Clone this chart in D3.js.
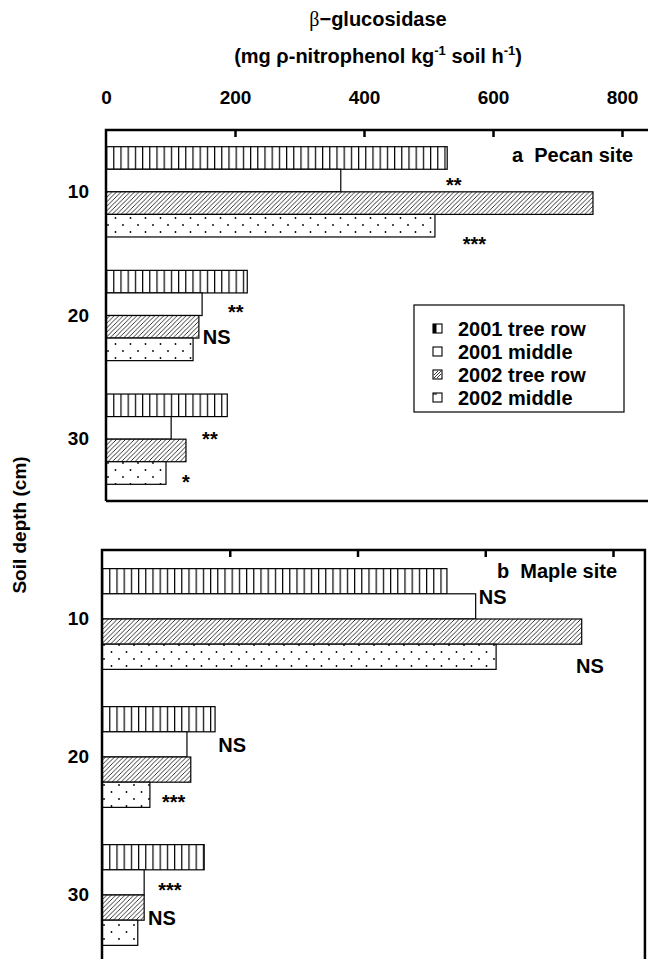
<!DOCTYPE html>
<html>
<head>
<meta charset="utf-8">
<script src="https://cdn.jsdelivr.net/npm/d3@7"></script>
<style>
  body { margin: 0; background: #fff; }
  svg text { font-family: "Liberation Sans", Arial, sans-serif; font-weight: bold; fill: #000; }
</style>
</head>
<body>
<div id="chart"></div>
<script>
const depths = [10, 20, 30]
const series = ['2001 tree row', '2001 middle', '2002 tree row', '2002 middle']
const xTicks = [0, 200, 400, 600, 800]

// a: pecan site, one value per depth
const pecanTree2001 = [529, 219, 188]
const pecanMiddle2001 = [364, 149, 101]
const pecanTree2002 = [755, 144, 124]
const pecanMiddle2002 = [510, 135, 93]

// b: maple site
const mapleTree2001 = [540, 177, 160]
const mapleMiddle2001 = [585, 133, 66]
const mapleTree2002 = [751, 139, 66]
const mapleMiddle2002 = [617, 75, 56]

// tree row vs middle test, per depth: [2001, 2002]
const pecanSig = [['**', '***'], ['**', 'NS'], ['**', '*']]
const mapleSig = [['NS', 'NS'], ['NS', '***'], ['***', 'NS']]

// where the test labels sit: bar row (from top of group) and x value they start at
const pecanSigPos = [[[1.47, 527], [4.08, 553]], [[1.62, 189], [2.95, 150]], [[1.77, 149], [3.67, 118]]]
const mapleSigPos = [[[1.13, 590], [3.85, 742]], [[1.52, 182], [3.6, 94]], [[1.6, 88], [2.91, 72]]]

const width = 648
const height = 959

const svg = d3.select('#chart')
    .append('svg')
    .attr('width', width)
    .attr('height', height)

const defs = svg.append('defs')

const panels = [
    { id: 'a', title: 'a\u00a0\u00a0Pecan site', values: [pecanTree2001, pecanMiddle2001, pecanTree2002, pecanMiddle2002],
      sig: pecanSig, sigPos: pecanSigPos, top: 130, bottom: 501, x0: 106, x800: 622, titleX: 512, titleY: 155 },
    { id: 'b', title: 'b\u00a0\u00a0Maple site', values: [mapleTree2001, mapleMiddle2001, mapleTree2002, mapleMiddle2002],
      sig: mapleSig, sigPos: mapleSigPos, top: 550, bottom: 964, x0: 102, x800: 613, titleX: 497, titleY: 571 }
]

function makePatterns(id, x0) {
    const stripe = defs.append('pattern')
        .attr('id', 'stripe-' + id)
        .attr('patternUnits', 'userSpaceOnUse')
        .attr('x', x0).attr('y', 0)
        .attr('width', 7.2).attr('height', 10)
    stripe.append('rect').attr('width', 7.2).attr('height', 10).attr('fill', '#fff')
    stripe.append('path').attr('d', 'M0.6,0V10').attr('stroke', '#000').attr('stroke-width', 1.2)

    const hatch = defs.append('pattern')
        .attr('id', 'hatch-' + id)
        .attr('patternUnits', 'userSpaceOnUse')
        .attr('x', x0).attr('y', 0)
        .attr('width', 4.5).attr('height', 4.5)
    hatch.append('rect').attr('width', 4.5).attr('height', 4.5).attr('fill', '#fff')
    hatch.append('path')
        .attr('d', 'M0,4.5L4.5,0M-1,1L1,-1M3.5,5.5L5.5,3.5')
        .attr('stroke', '#000').attr('stroke-width', 0.8)

    const dots = defs.append('pattern')
        .attr('id', 'dots-' + id)
        .attr('patternUnits', 'userSpaceOnUse')
        .attr('x', x0).attr('y', 0)
        .attr('width', 15).attr('height', 14)
    dots.append('rect').attr('width', 15).attr('height', 14).attr('fill', '#fff')
    dots.append('circle').attr('cx', 2).attr('cy', 1).attr('r', 0.9)
    dots.append('circle').attr('cx', 9.5).attr('cy', 8).attr('r', 0.9)

    return ['url(#stripe-' + id + ')', '#fff', 'url(#hatch-' + id + ')', 'url(#dots-' + id + ')']
}

// tiny swatches for the legend
function legendSwatch(sel, i) {
    sel.append('rect')
        .attr('x', 0).attr('y', -5).attr('width', 9).attr('height', 9)
        .attr('fill', '#fff').attr('stroke', '#000').attr('stroke-width', 1.1)
    if (i === 0) {
        sel.append('rect').attr('x', 0).attr('y', -5).attr('width', 3.5).attr('height', 9).attr('fill', '#000')
    } else if (i === 2) {
        sel.append('path').attr('d', 'M1,3L8,-4M1,0L5,-4M4,3L8,-1').attr('stroke', '#000').attr('stroke-width', 0.8)
    } else if (i === 3) {
        sel.append('path').attr('d', 'M0,-4H4').attr('stroke', '#000').attr('stroke-width', 1)
    }
}

panels.forEach(p => {
    const x = d3.scaleLinear().domain([0, 800]).range([p.x0, p.x800])
    const y = d3.scaleBand().domain(depths).range([p.top, p.bottom])
        .paddingInner(0.27).paddingOuter(0.135)
    const sub = d3.scaleBand().domain(d3.range(series.length)).range([0, y.bandwidth()])
    const fills = makePatterns(p.id, p.x0)

    const g = svg.append('g')

    const rows = []
    p.values.forEach((arr, i) => arr.forEach((v, j) => rows.push({ i, depth: depths[j], v })))

    g.append('g')
        .selectAll('rect')
        .data(rows)
        .join('rect')
            .attr('x', x(0))
            .attr('y', d => y(d.depth) + sub(d.i))
            .attr('width', d => x(d.v) - x(0))
            .attr('height', sub.bandwidth())
            .attr('fill', d => fills[d.i])
            .attr('stroke', '#000')
            .attr('stroke-width', 1.2)

    // frame
    const right = x(850)
    g.append('path')
        .attr('d', `M${x(0)},${p.bottom}V${p.top}H${right}V${p.bottom}H${x(0)}`)
        .attr('fill', 'none')
        .attr('stroke', '#000')
        .attr('stroke-width', 2.5)

    // inward ticks on the top edge
    g.append('g')
        .attr('transform', `translate(0,${p.top})`)
        .call(d3.axisBottom(x).tickValues(xTicks.slice(1)).tickSize(7).tickFormat(''))
        .call(a => a.select('.domain').remove())
        .selectAll('line').attr('stroke-width', 2.5)

    // depth labels
    g.append('g')
        .attr('transform', `translate(89,0)`)
        .call(d3.axisLeft(y).tickSize(0).tickPadding(0))
        .call(a => a.select('.domain').remove())
        .attr('font-size', 19)
        .attr('font-family', null)

    g.append('text')
        .attr('x', p.titleX)
        .attr('y', p.titleY)
        .attr('dy', '0.36em')
        .attr('font-size', 20)
        .text(p.title)

    // significance labels
    const marks = []
    p.sig.forEach((pair, j) => pair.forEach((label, k) => {
        const pos = p.sigPos[j][k]
        marks.push({ label, depth: depths[j], row: pos[0], at: pos[1] })
    }))
    g.append('g')
        .selectAll('text')
        .data(marks)
        .join('text')
            .attr('x', d => x(d.at))
            .attr('y', d => y(d.depth) + d.row * sub.bandwidth())
            .attr('dy', d => d.label.includes('*') ? '0.6em' : '0.36em')
            .attr('font-size', 20)
            .text(d => d.label)

    if (p.id === 'a') {
        g.append('g')
            .attr('transform', `translate(0,104)`)
            .call(d3.axisTop(x).tickValues(xTicks).tickSize(0).tickPadding(0))
            .call(a => a.select('.domain').remove())
            .attr('font-size', 19)
            .attr('font-family', null)

        // legend
        const lg = g.append('g')
        lg.append('rect')
            .attr('x', 414).attr('y', 305).attr('width', 210).attr('height', 107)
            .attr('fill', '#fff').attr('stroke', '#000').attr('stroke-width', 1.2)
        const item = lg.selectAll('g.item')
            .data(series)
            .join('g')
            .attr('class', 'item')
            .attr('transform', (d, i) => `translate(433,${329 + i * 23})`)
        item.each(function (d, i) { legendSwatch(d3.select(this), i) })
        item.append('text')
            .attr('x', 25)
            .attr('dy', '0.36em')
            .attr('font-size', 20)
            .text(d => d)
    }
})

// titles
const t1 = svg.append('text')
    .attr('x', 378).attr('y', 26)
    .attr('text-anchor', 'middle')
    .attr('font-size', 20)
t1.append('tspan').attr('font-family', '"Liberation Serif", serif').attr('font-weight', 'normal').text('β')
t1.append('tspan').text('−glucosidase')

const t2 = svg.append('text')
    .attr('x', 378).attr('y', 63)
    .attr('text-anchor', 'middle')
    .attr('font-size', 20)
t2.append('tspan').text('(mg ρ-nitrophenol kg')
t2.append('tspan').attr('font-size', 13).attr('dy', -8).text('-1')
t2.append('tspan').attr('dy', 8).text(' soil h')
t2.append('tspan').attr('font-size', 13).attr('dy', -8).text('-1')
t2.append('tspan').attr('dy', 8).text(')')

svg.append('text')
    .attr('transform', 'translate(26,525) rotate(-90)')
    .attr('text-anchor', 'middle')
    .attr('font-size', 19)
    .text('Soil depth (cm)')
</script>
</body>
</html>
